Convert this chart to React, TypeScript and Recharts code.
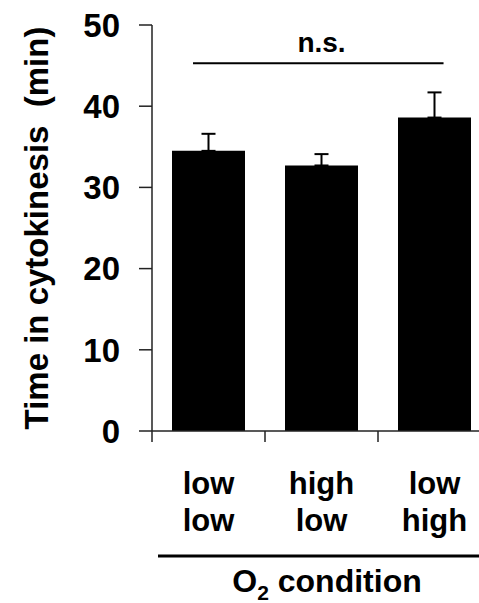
import { Bar, BarChart, ErrorBar, ReferenceLine, XAxis, YAxis } from 'recharts'

// O2 condition pairs (first row / second row under each bar)
const conditions = ['low-low', 'high-low', 'low-high']
const firstRow = ['low', 'high', 'low']
const secondRow = ['low', 'low', 'high']
const meanTime = [34.5, 32.7, 38.6]
const errTime = [2.1, 1.4, 3.1]
const yTicks = [0, 10, 20, 30, 40, 50]
const nsLevel = 45.3

const font = 'Arial, "Liberation Sans", Helvetica, sans-serif'
const axisColor = '#222'

const chartWidth = 495
const plotLeft = 152
const plotRight = 4
const band = (chartWidth - plotLeft - plotRight) / conditions.length

const data = conditions.map((c, i) => ({
  condition: c,
  time: meanTime[i],
  err: [0, errTime[i]],
}))

function ConditionTick(props: any) {
  const { x, y, payload, index } = props
  const half = payload?.offset ? payload.offset : band / 2
  const left = x - half
  const textStyle = { fontFamily: font, fontSize: 31, fontWeight: 700, fill: '#000' }
  return (
    <g>
      <line x1={left} y1={y} x2={left} y2={y + 11} stroke={axisColor} strokeWidth={1.5} />
      <text x={x} y={y + 63} textAnchor="middle" style={textStyle}>
        {firstRow[index]}
      </text>
      <text x={x} y={y + 100} textAnchor="middle" style={textStyle}>
        {secondRow[index]}
      </text>
    </g>
  )
}

function ConditionLabel(props: any) {
  const vb = props.viewBox || {}
  const lineY = vb.y + 125
  return (
    <g>
      <line x1={vb.x + 6} y1={lineY} x2={vb.x + vb.width + 10} y2={lineY} stroke="#000" strokeWidth={3} />
      <text
        x={vb.x + 175}
        y={lineY + 36}
        textAnchor="middle"
        style={{ fontFamily: font, fontSize: 32, fontWeight: 700, fill: '#000' }}
      >
        O
        <tspan fontSize={21} dy={8}>2</tspan>
        <tspan dy={-8}> condition</tspan>
      </text>
    </g>
  )
}

function TimeLabel(props: any) {
  const vb = props.viewBox || {}
  const cx = vb.x + 48
  const cy = vb.y + vb.height / 2
  return (
    <text
      transform={`translate(${cx}, ${cy}) rotate(-90)`}
      textAnchor="middle"
      style={{ fontFamily: font, fontSize: 33, fontWeight: 700, fill: '#000', whiteSpace: 'pre' }}
    >
      {'Time in cytokinesis  (min)'}
    </text>
  )
}

function NsBracket(props: any) {
  const { x1, x2, y1 } = props
  const w = x2 - x1
  const a = x1 + w * 0.121
  const b = x1 + w * 0.86
  return (
    <g>
      <line x1={a} y1={y1} x2={b} y2={y1} stroke="#000" strokeWidth={2} />
      <text
        x={x1 + w * 0.5}
        y={y1 - 11}
        textAnchor="middle"
        style={{ fontFamily: font, fontSize: 28, fontWeight: 700, fill: '#000' }}
      >
        n.s.
      </text>
    </g>
  )
}

export default function App() {
  return (
    <div
      style={{
        position: 'absolute',
        left: 0,
        top: 0,
        width: 479,
        height: 603,
        overflow: 'hidden',
        background: '#fff',
      }}
    >
      <BarChart
        width={chartWidth}
        height={603}
        data={data}
        margin={{ top: 25, right: plotRight, bottom: 0, left: 0 }}
        barCategoryGap="17.7%"
      >
        <XAxis
          dataKey="condition"
          height={172}
          tickSize={0}
          tickMargin={0}
          tickLine={false}
          interval={0}
          axisLine={{ stroke: axisColor, strokeWidth: 1.5 }}
          tick={<ConditionTick />}
          label={{ content: <ConditionLabel /> }}
        />
        <YAxis
          domain={[0, 50]}
          ticks={yTicks}
          interval={0}
          width={plotLeft}
          tickSize={13}
          tickMargin={19}
          axisLine={{ stroke: axisColor, strokeWidth: 1.5 }}
          tickLine={{ stroke: axisColor, strokeWidth: 1.5 }}
          tick={{ fill: '#000', fontSize: 33, fontWeight: 700, fontFamily: font }}
          label={{ content: <TimeLabel /> }}
        />
        <ReferenceLine y={nsLevel} shape={<NsBracket />} />
        <Bar dataKey="time" fill="#000" isAnimationActive={false}>
          <ErrorBar dataKey="err" direction="y" width={7} stroke="#000" strokeWidth={2} isAnimationActive={false} />
        </Bar>
      </BarChart>
    </div>
  )
}
